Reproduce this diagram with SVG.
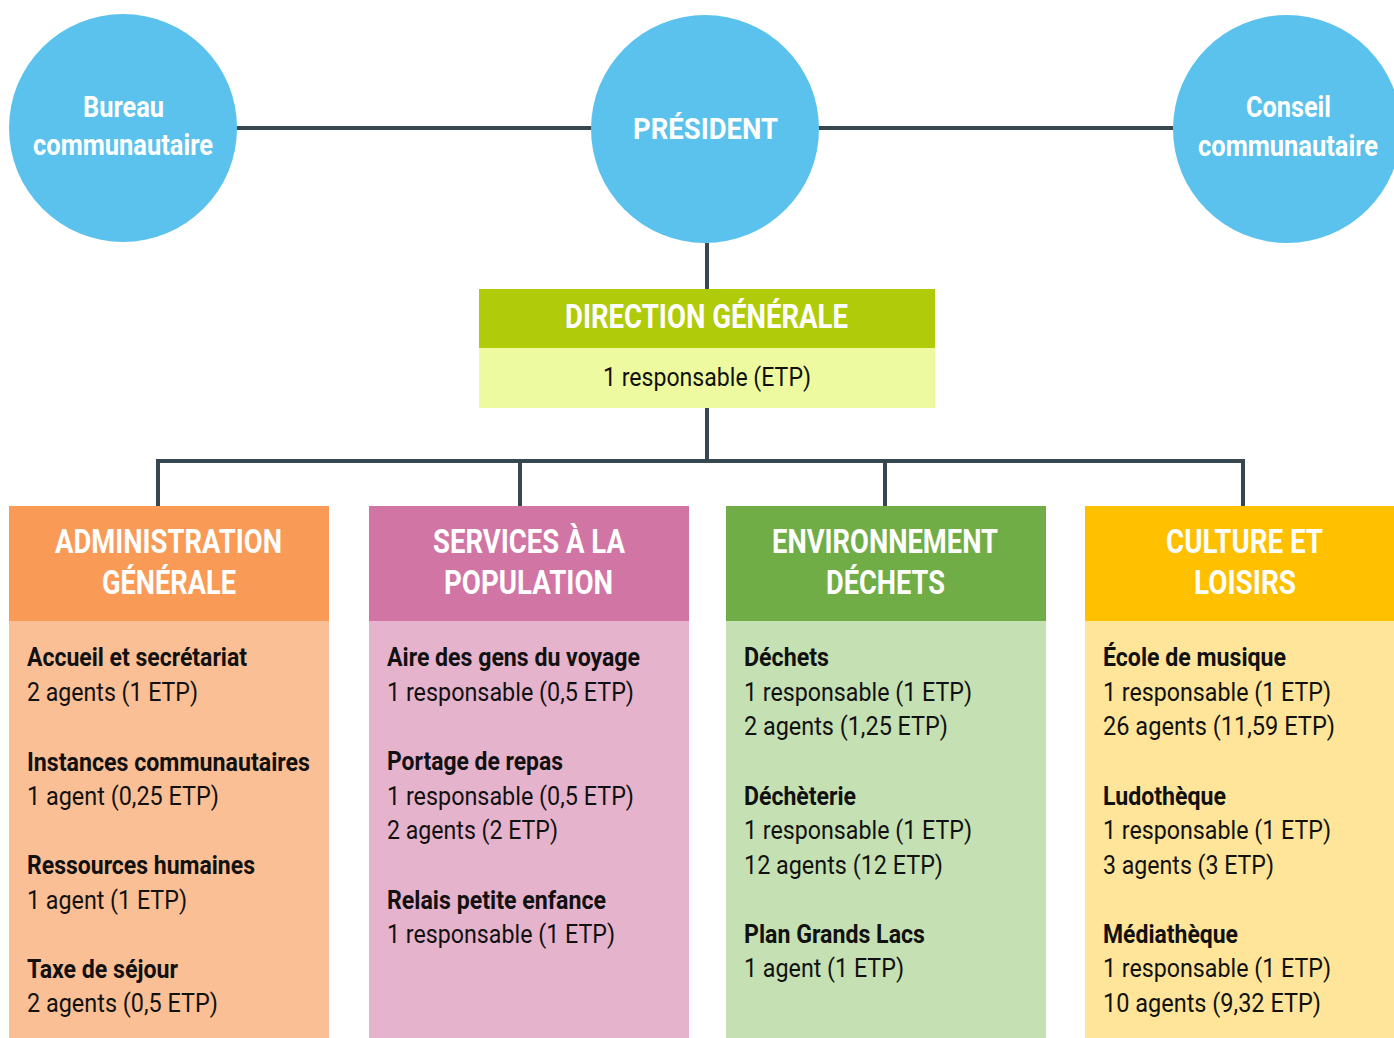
<svg xmlns="http://www.w3.org/2000/svg" width="1394" height="1038" viewBox="0 0 1394 1038">
<style>
.circ{fill:#5bc2ed}
.ln{stroke:#37474f;stroke-width:4;fill:none}
text{font-family:Roboto,"Liberation Sans",sans-serif}
.w{fill:#fff;font-weight:bold}
.ct{font-size:29px}
.hd{font-size:33px}
.b{fill:#111;font-size:26px;font-weight:bold}
.n{fill:#111;font-size:26px}
</style>
<rect width="1394" height="1038" fill="#fff"/>
<g id="connectors">
<path class="ln" d="M237 128H1173"/>
<path class="ln" d="M707 243V289"/>
<path class="ln" d="M707 408V461M158 461H1243M158 459V506M520 459V506M885 459V506M1243 459V506"/>
</g>
<g id="bureau">
<circle class="circ" cx="123" cy="128" r="114"/>
<text class="w ct" x="83" y="117" textLength="81" lengthAdjust="spacingAndGlyphs">Bureau</text>
<text class="w ct" x="33" y="155" textLength="180" lengthAdjust="spacingAndGlyphs">communautaire</text>
</g>
<g id="president">
<circle class="circ" cx="705" cy="129" r="114"/>
<text class="w ct" x="633" y="139" textLength="145" lengthAdjust="spacingAndGlyphs">PRÉSIDENT</text>
</g>
<g id="conseil">
<circle class="circ" cx="1287" cy="129" r="114"/>
<text class="w ct" x="1246" y="117" textLength="85" lengthAdjust="spacingAndGlyphs">Conseil</text>
<text class="w ct" x="1198" y="156" textLength="180" lengthAdjust="spacingAndGlyphs">communautaire</text>
</g>
<g id="direction">
<rect x="479" y="289" width="456" height="59" fill="#b0cb0a"/>
<rect x="479" y="348" width="456" height="60" fill="#eefa9f"/>
<text class="w hd" x="565" y="328" textLength="283" lengthAdjust="spacingAndGlyphs">DIRECTION GÉNÉRALE</text>
<text class="n" x="603" y="386" textLength="208" lengthAdjust="spacingAndGlyphs">1 responsable (ETP)</text>
</g>
<g id="administration">
<rect x="9" y="506" width="320" height="115" fill="#f99b56"/>
<rect x="9" y="621" width="320" height="417" fill="#fbbf96"/>
<text class="w hd" x="55" y="553" textLength="227" lengthAdjust="spacingAndGlyphs">ADMINISTRATION</text>
<text class="w hd" x="102" y="594" textLength="134" lengthAdjust="spacingAndGlyphs">GÉNÉRALE</text>
<text class="b" x="27" y="666" textLength="220" lengthAdjust="spacingAndGlyphs">Accueil et secrétariat</text>
<text class="n" x="27" y="701" textLength="171" lengthAdjust="spacingAndGlyphs">2 agents (1 ETP)</text>
<text class="b" x="27" y="771" textLength="283" lengthAdjust="spacingAndGlyphs">Instances communautaires</text>
<text class="n" x="27" y="805" textLength="192" lengthAdjust="spacingAndGlyphs">1 agent (0,25 ETP)</text>
<text class="b" x="27" y="874" textLength="228" lengthAdjust="spacingAndGlyphs">Ressources humaines</text>
<text class="n" x="27" y="909" textLength="160" lengthAdjust="spacingAndGlyphs">1 agent (1 ETP)</text>
<text class="b" x="27" y="978" textLength="151" lengthAdjust="spacingAndGlyphs">Taxe de séjour</text>
<text class="n" x="27" y="1012" textLength="191" lengthAdjust="spacingAndGlyphs">2 agents (0,5 ETP)</text>
</g>
<g id="services">
<rect x="369" y="506" width="320" height="115" fill="#d175a4"/>
<rect x="369" y="621" width="320" height="417" fill="#e6b3cd"/>
<text class="w hd" x="433" y="553" textLength="192" lengthAdjust="spacingAndGlyphs">SERVICES À LA</text>
<text class="w hd" x="444" y="594" textLength="169" lengthAdjust="spacingAndGlyphs">POPULATION</text>
<text class="b" x="387" y="666" textLength="253" lengthAdjust="spacingAndGlyphs">Aire des gens du voyage</text>
<text class="n" x="387" y="701" textLength="247" lengthAdjust="spacingAndGlyphs">1 responsable (0,5 ETP)</text>
<text class="b" x="387" y="770" textLength="176" lengthAdjust="spacingAndGlyphs">Portage de repas</text>
<text class="n" x="387" y="805" textLength="247" lengthAdjust="spacingAndGlyphs">1 responsable (0,5 ETP)</text>
<text class="n" x="387" y="839" textLength="171" lengthAdjust="spacingAndGlyphs">2 agents (2 ETP)</text>
<text class="b" x="387" y="909" textLength="219" lengthAdjust="spacingAndGlyphs">Relais petite enfance</text>
<text class="n" x="387" y="943" textLength="228" lengthAdjust="spacingAndGlyphs">1 responsable (1 ETP)</text>
</g>
<g id="environnement">
<rect x="726" y="506" width="320" height="115" fill="#70ad47"/>
<rect x="726" y="621" width="320" height="417" fill="#c5e0b3"/>
<text class="w hd" x="772" y="553" textLength="226" lengthAdjust="spacingAndGlyphs">ENVIRONNEMENT</text>
<text class="w hd" x="826" y="594" textLength="119" lengthAdjust="spacingAndGlyphs">DÉCHETS</text>
<text class="b" x="744" y="666" textLength="85" lengthAdjust="spacingAndGlyphs">Déchets</text>
<text class="n" x="744" y="701" textLength="228" lengthAdjust="spacingAndGlyphs">1 responsable (1 ETP)</text>
<text class="n" x="744" y="735" textLength="204" lengthAdjust="spacingAndGlyphs">2 agents (1,25 ETP)</text>
<text class="b" x="744" y="805" textLength="112" lengthAdjust="spacingAndGlyphs">Déchèterie</text>
<text class="n" x="744" y="839" textLength="228" lengthAdjust="spacingAndGlyphs">1 responsable (1 ETP)</text>
<text class="n" x="744" y="874" textLength="199" lengthAdjust="spacingAndGlyphs">12 agents (12 ETP)</text>
<text class="b" x="744" y="943" textLength="181" lengthAdjust="spacingAndGlyphs">Plan Grands Lacs</text>
<text class="n" x="744" y="977" textLength="160" lengthAdjust="spacingAndGlyphs">1 agent (1 ETP)</text>
</g>
<g id="culture">
<rect x="1085" y="506" width="309" height="115" fill="#ffc000"/>
<rect x="1085" y="621" width="309" height="417" fill="#ffe599"/>
<text class="w hd" x="1166" y="553" textLength="157" lengthAdjust="spacingAndGlyphs">CULTURE ET</text>
<text class="w hd" x="1194" y="594" textLength="102" lengthAdjust="spacingAndGlyphs">LOISIRS</text>
<text class="b" x="1103" y="666" textLength="183" lengthAdjust="spacingAndGlyphs">École de musique</text>
<text class="n" x="1103" y="701" textLength="228" lengthAdjust="spacingAndGlyphs">1 responsable (1 ETP)</text>
<text class="n" x="1103" y="735" textLength="232" lengthAdjust="spacingAndGlyphs">26 agents (11,59 ETP)</text>
<text class="b" x="1103" y="805" textLength="123" lengthAdjust="spacingAndGlyphs">Ludothèque</text>
<text class="n" x="1103" y="839" textLength="228" lengthAdjust="spacingAndGlyphs">1 responsable (1 ETP)</text>
<text class="n" x="1103" y="874" textLength="171" lengthAdjust="spacingAndGlyphs">3 agents (3 ETP)</text>
<text class="b" x="1103" y="943" textLength="135" lengthAdjust="spacingAndGlyphs">Médiathèque</text>
<text class="n" x="1103" y="977" textLength="228" lengthAdjust="spacingAndGlyphs">1 responsable (1 ETP)</text>
<text class="n" x="1103" y="1012" textLength="218" lengthAdjust="spacingAndGlyphs">10 agents (9,32 ETP)</text>
</g>
</svg>
